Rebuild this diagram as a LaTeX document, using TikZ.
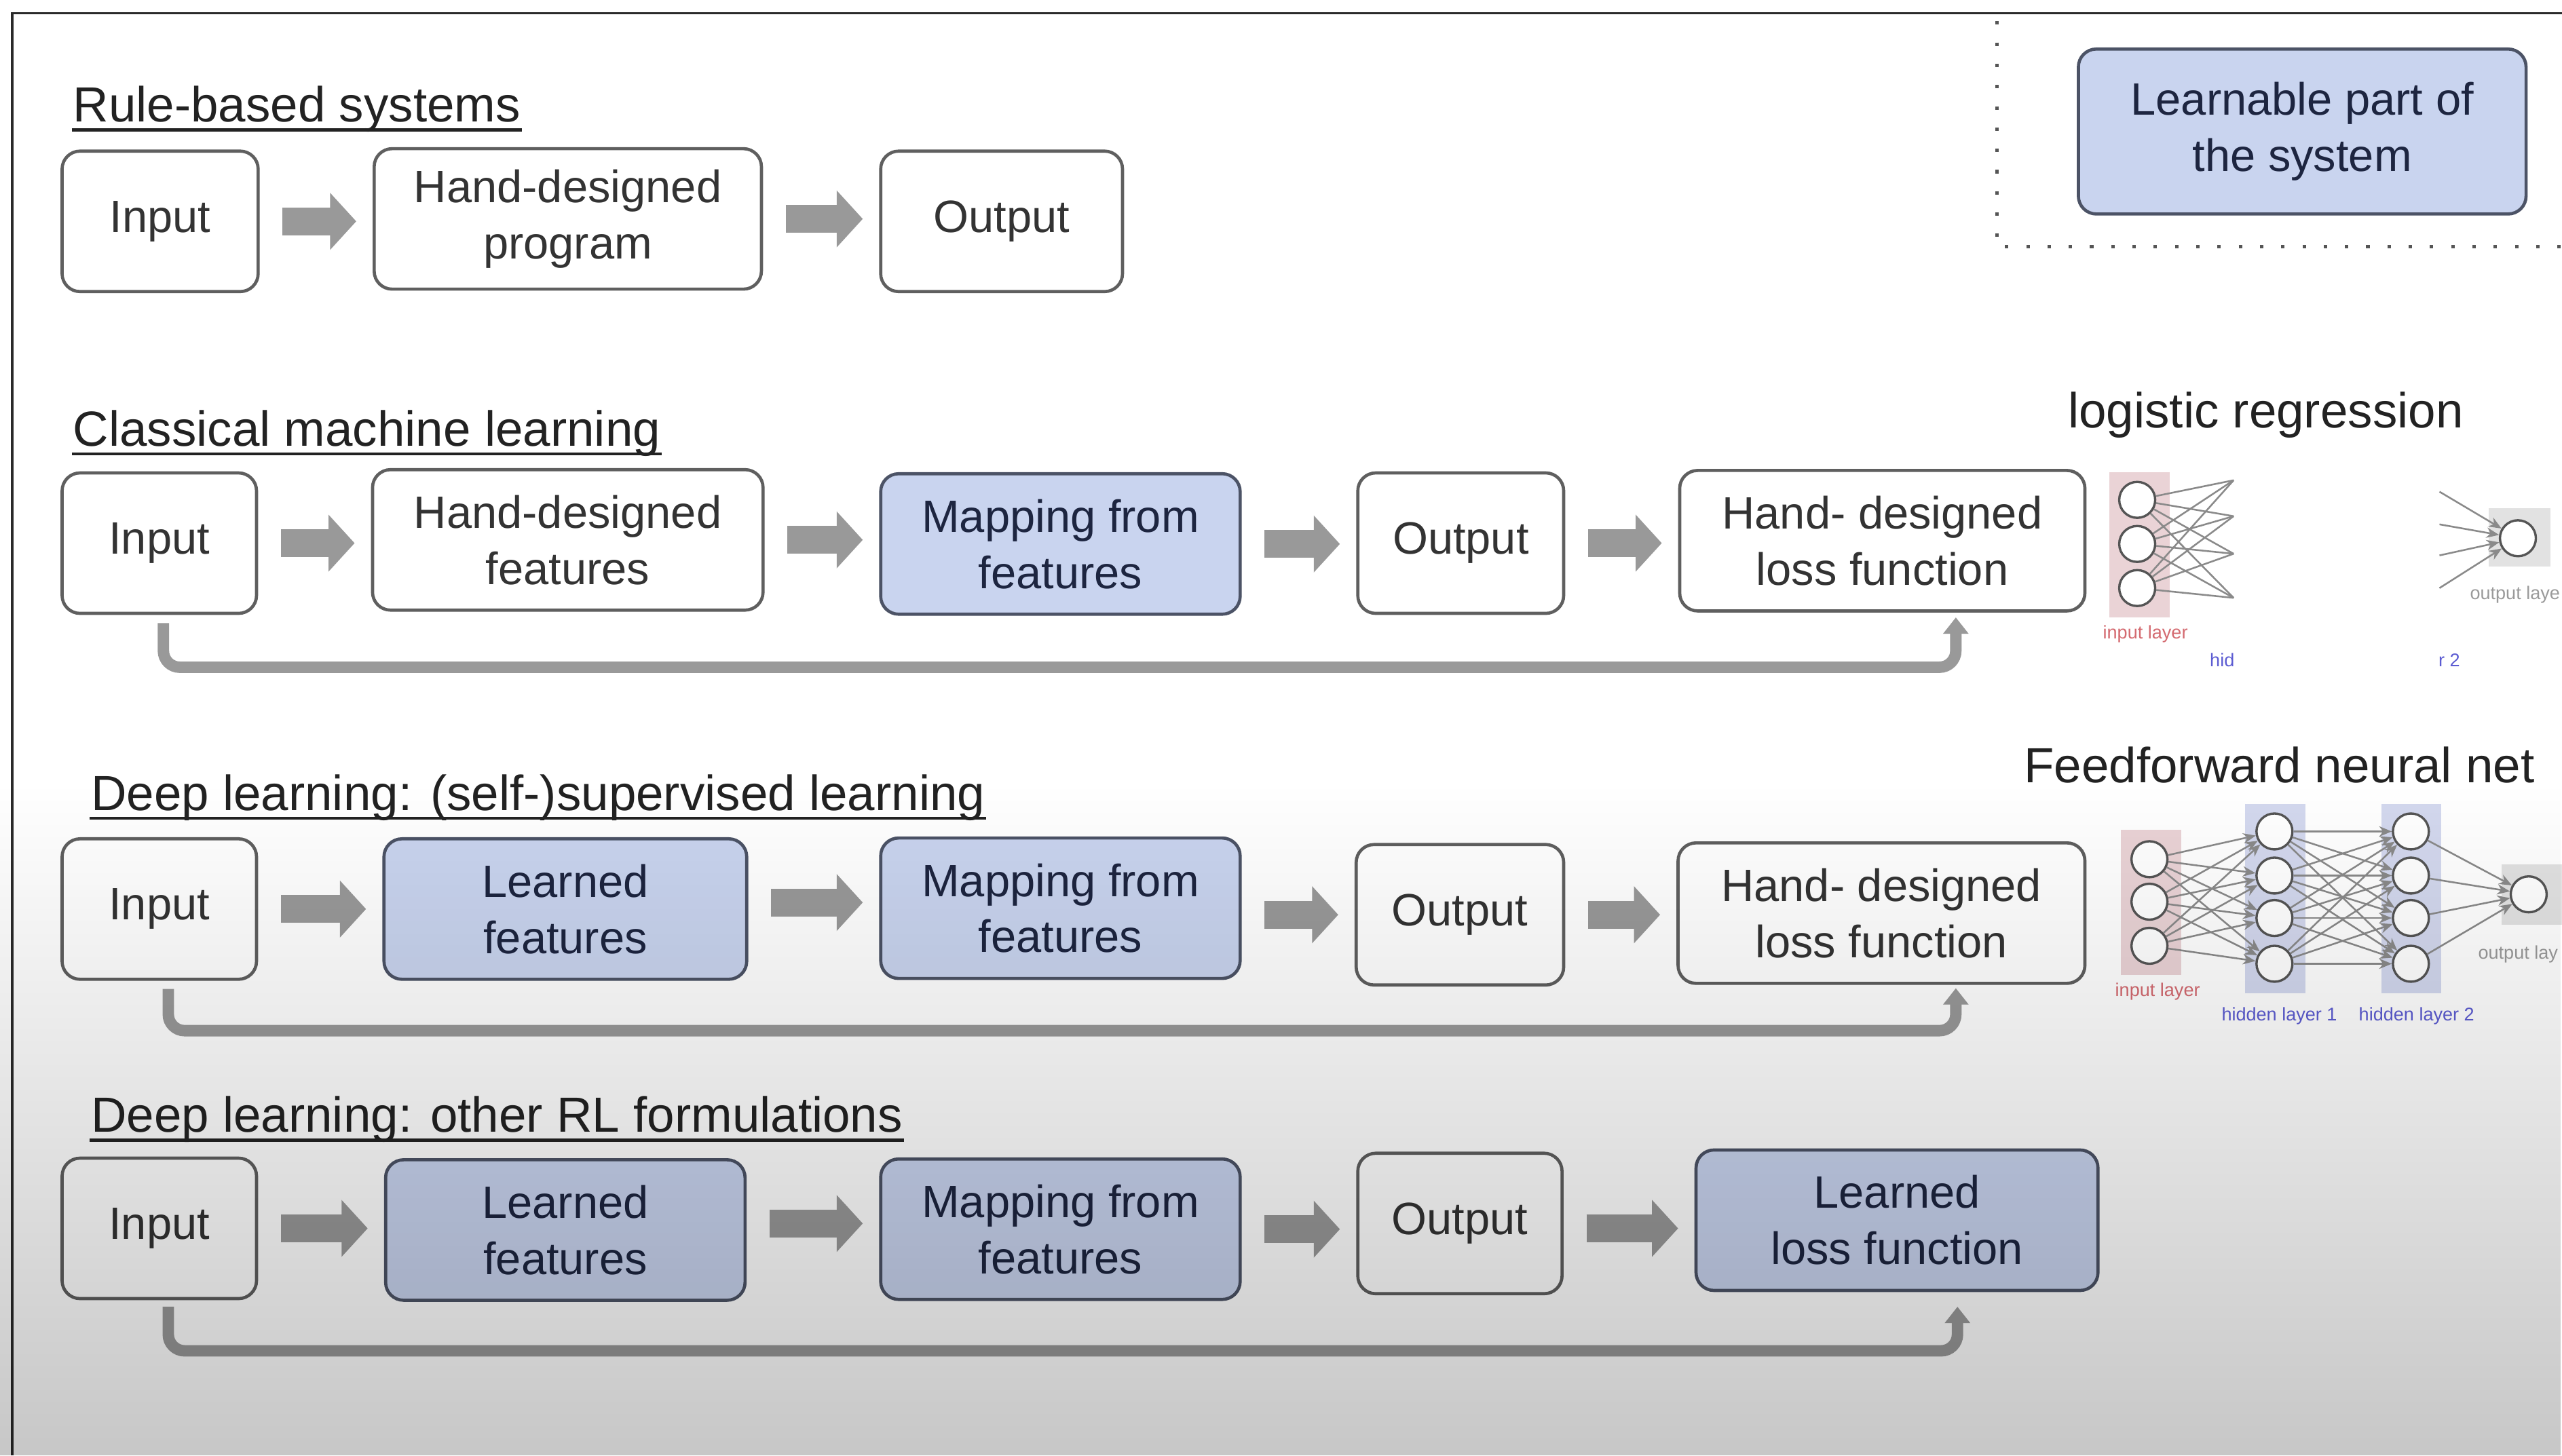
\documentclass[tikz,border=0pt]{standalone}
\usepackage{fontspec}
\setmainfont{Liberation Sans}
\usetikzlibrary{arrows.meta,fadings}

\definecolor{boxline}{HTML}{5F5F5F}
\definecolor{boxtext}{HTML}{333333}
\definecolor{learnfill}{HTML}{C9D4EF}
\definecolor{learnline}{HTML}{4C5366}
\definecolor{learntext}{HTML}{1D2540}
\definecolor{headtext}{HTML}{222222}
\definecolor{arrowgray}{HTML}{999999}
\definecolor{framecol}{HTML}{2A2A2A}
\definecolor{dotcol}{HTML}{555555}
\definecolor{inlayerfill}{HTML}{EAD3D6}
\definecolor{hidlayerfill}{HTML}{D3D8EE}
\definecolor{outlayerfill}{HTML}{E2E2E2}
\definecolor{neuronline}{HTML}{555555}
\definecolor{synapsegray}{HTML}{8A8A8A}
\definecolor{lblred}{HTML}{D46A70}
\definecolor{lblblue}{HTML}{5C5CD2}
\definecolor{lblgray}{HTML}{9A9A9A}

\tikzfading[name=dimdown, top color=transparent!100, bottom color=transparent!78]

\tikzstyle{box}=[draw=boxline, line width=0.55pt, rounded corners=0.11cm, text=boxtext, align=center, inner sep=0pt, minimum height=0.86cm, font=\fontsize{7.9}{9.8}\selectfont]
\tikzstyle{learn}=[box, draw=learnline, fill=learnfill, text=learntext]
\tikzstyle{heading}=[anchor=base west, inner sep=0pt, text=headtext, font=\fontsize{8.6}{10}\selectfont]
\tikzstyle{uline}=[draw=headtext, line width=0.5pt]
\tikzstyle{blockarrow}=[draw=arrowgray, line width=0.17cm, -{Triangle[width=0.34cm,length=0.16cm]}, shorten <=0.14cm, shorten >=0.1cm]
\tikzstyle{feedback}=[draw=arrowgray, line width=0.07cm, rounded corners=0.1cm, -{Triangle[width=0.15cm,length=0.1cm]}]
\tikzstyle{legenddots}=[draw=dotcol, line width=0.6pt, dash pattern=on 0.6pt off 3.1pt]
\tikzstyle{neuron}=[circle, inner sep=0pt, minimum size=0.22cm, draw=neuronline, line width=0.4pt, fill=white]
\tikzstyle{synapse}=[draw=synapsegray, line width=0.3pt]
\tikzstyle{synapsetip}=[synapse, -{Stealth[length=2.2pt,width=1.8pt]}]
\tikzstyle{lbl}=[inner sep=0pt, font=\fontsize{3.2}{3.6}\selectfont]

\begin{document}
\begin{tikzpicture}
\clip (0,0) rectangle (15.68,-8.91);
\fill[white] (0,0) rectangle (15.68,-8.91);
\draw[framecol, line width=0.4pt] (0.075,-8.91) -- (0.075,-0.08) -- (15.68,-0.08);

% legend
\draw[legenddots] (12.22,-0.13) -- (12.22,-1.51) -- (15.68,-1.51);
\node[learn, minimum width=2.74cm, minimum height=1.01cm] (legend) at (14.09,-0.805) {Learnable part of\\the system};

% rule-based systems
\node[heading] (h1) at (0.44,-0.745) {Rule-based systems};
\draw[uline] ([yshift=-0.05cm]h1.base west) -- ([yshift=-0.05cm]h1.base east);
\node[box, minimum width=1.20cm] (in1) at (0.98,-1.355) {Input};
\node[box, minimum width=2.37cm] (prog) at (3.475,-1.34) {Hand-designed\\program};
\node[box, minimum width=1.48cm] (out1) at (6.13,-1.355) {Output};
\draw[blockarrow] (in1.east) -- (in1.east -| prog.west);
\draw[blockarrow] (prog.east) -- (prog.east -| out1.west);

% classical machine learning
\node[heading] (h2) at (0.44,-2.73) {Classical machine learning};
\draw[uline] ([yshift=-0.05cm]h2.base west) -- ([yshift=-0.05cm]h2.base east);
\node[box, minimum width=1.19cm] (in2) at (0.975,-3.325) {Input};
\node[box, minimum width=2.39cm] (hfeat) at (3.475,-3.305) {Hand-designed\\features};
\node[learn, minimum width=2.20cm] (map2) at (6.49,-3.33) {Mapping from\\features};
\node[box, minimum width=1.26cm] (out2) at (8.94,-3.325) {Output};
\node[box, minimum width=2.48cm] (loss2) at (11.52,-3.31) {Hand- designed\\loss function};
\draw[blockarrow] (in2.east) -- (in2.east -| hfeat.west);
\draw[blockarrow] (hfeat.east) -- (hfeat.east -| map2.west);
\draw[blockarrow] (map2.east) -- (map2.east -| out2.west);
\draw[blockarrow] (out2.east) -- (out2.east -| loss2.west);
\draw[feedback] ([xshift=0.025cm,yshift=-0.05cm]in2.south) -- ++(0,-0.27) -| ([xshift=0.45cm,yshift=-0.03cm]loss2.south);

\node[heading] (lrtitle) at (12.65,-2.62) {logistic regression};
\fill[inlayerfill] (12.91,-2.89) rectangle (13.28,-3.78);
\fill[outlayerfill] (15.23,-3.11) rectangle (15.61,-3.47);
\node[neuron] (lri1) at (13.08,-3.06) {};
\node[neuron] (lri2) at (13.08,-3.33) {};
\node[neuron] (lri3) at (13.08,-3.60) {};
\node[neuron] (lro) at (15.41,-3.295) {};
\coordinate (lrh1) at (13.67,-2.94);
\coordinate (lrh2) at (13.67,-3.16);
\coordinate (lrh3) at (13.67,-3.39);
\coordinate (lrh4) at (13.67,-3.66);
\coordinate (lrp1) at (14.93,-3.01);
\coordinate (lrp2) at (14.93,-3.21);
\coordinate (lrp3) at (14.93,-3.40);
\coordinate (lrp4) at (14.93,-3.60);
\foreach \i in {1,2,3}
  \foreach \j in {1,...,4}
    \draw[synapse] (lri\i) -- (lrh\j);
\foreach \j in {1,...,4}
  \draw[synapsetip] (lrp\j) -- (lro);
\node[lbl, text=lblred] (lrlin) at (13.13,-3.88) {input layer};
\node[lbl, text=lblblue] (lrlhid) at (13.60,-4.04) {hid};
\node[lbl, text=lblblue] (lrlr) at (14.99,-4.04) {r 2};
\node[lbl, text=lblgray, anchor=west] (lrlout) at (15.11,-3.64) {output laye};

% deep learning: supervised
\node[heading] (h3) at (0.55,-4.96) {Deep learning: (self-)supervised learning};
\draw[uline] ([yshift=-0.05cm]h3.base west) -- ([yshift=-0.05cm]h3.base east);
\node[box, minimum width=1.19cm] (in3) at (0.975,-5.565) {Input};
\node[learn, minimum width=2.22cm] (lfeat3) at (3.46,-5.565) {Learned\\features};
\node[learn, minimum width=2.20cm] (map3) at (6.49,-5.56) {Mapping from\\features};
\node[box, minimum width=1.27cm] (out3) at (8.935,-5.60) {Output};
\node[box, minimum width=2.49cm] (loss3) at (11.515,-5.59) {Hand- designed\\loss function};
\draw[blockarrow] (in3.east) -- (in3.east -| lfeat3.west);
\draw[blockarrow] ([yshift=0.04cm]lfeat3.east) -- ([yshift=0.04cm]lfeat3.east -| map3.west);
\draw[blockarrow] (out3.west -| map3.east) -- (out3.west);
\draw[blockarrow] (out3.east) -- (out3.east -| loss3.west);
\draw[feedback] ([xshift=0.055cm,yshift=-0.05cm]in3.south) -- ++(0,-0.255) -| ([xshift=0.455cm,yshift=-0.02cm]loss3.south);

\node[heading] (fftitle) at (12.38,-4.79) {Feedforward neural net};
\fill[inlayerfill] (12.98,-5.08) rectangle (13.35,-5.97);
\fill[hidlayerfill] (13.74,-4.92) rectangle (14.11,-6.08);
\fill[hidlayerfill] (14.575,-4.92) rectangle (14.94,-6.08);
\fill[outlayerfill] (15.31,-5.29) rectangle (15.70,-5.66);
\node[neuron] (ffi1) at (13.155,-5.26) {};
\node[neuron] (ffi2) at (13.155,-5.52) {};
\node[neuron] (ffi3) at (13.155,-5.79) {};
\node[neuron] (ffa1) at (13.92,-5.09) {};
\node[neuron] (ffa2) at (13.92,-5.36) {};
\node[neuron] (ffa3) at (13.92,-5.62) {};
\node[neuron] (ffa4) at (13.92,-5.90) {};
\node[neuron] (ffb1) at (14.755,-5.09) {};
\node[neuron] (ffb2) at (14.755,-5.36) {};
\node[neuron] (ffb3) at (14.755,-5.62) {};
\node[neuron] (ffb4) at (14.755,-5.90) {};
\node[neuron] (ffo) at (15.476,-5.475) {};
\foreach \i in {1,2,3}
  \foreach \j in {1,...,4}
    \draw[synapsetip] (ffi\i) -- (ffa\j);
\foreach \i in {1,...,4}
  \foreach \j in {1,...,4}
    \draw[synapsetip] (ffa\i) -- (ffb\j);
\foreach \i in {1,...,4}
  \draw[synapsetip] (ffb\i) -- (ffo);
\node[lbl, text=lblred] (fflin) at (13.205,-6.07) {input layer};
\node[lbl, text=lblblue] (fflh1) at (13.95,-6.22) {hidden layer 1};
\node[lbl, text=lblblue] (fflh2) at (14.79,-6.22) {hidden layer 2};
\node[lbl, text=lblgray, anchor=west] (fflout) at (15.16,-5.84) {output lay};

% deep learning: other RL
\node[heading] (h4) at (0.55,-6.93) {Deep learning: other RL formulations};
\draw[uline] ([yshift=-0.05cm]h4.base west) -- ([yshift=-0.05cm]h4.base east);
\node[box, minimum width=1.19cm] (in4) at (0.975,-7.52) {Input};
\node[learn, minimum width=2.20cm] (lfeat4) at (3.46,-7.53) {Learned\\features};
\node[learn, minimum width=2.20cm] (map4) at (6.49,-7.525) {Mapping from\\features};
\node[box, minimum width=1.25cm] (out4) at (8.935,-7.49) {Output};
\node[learn, minimum width=2.46cm] (lloss4) at (11.61,-7.47) {Learned\\loss function};
\draw[blockarrow] (in4.east) -- (in4.east -| lfeat4.west);
\draw[blockarrow] ([yshift=0.04cm]lfeat4.east) -- ([yshift=0.04cm]lfeat4.east -| map4.west);
\draw[blockarrow] (map4.east) -- (map4.east -| out4.west);
\draw[blockarrow] ([yshift=-0.03cm]out4.east) -- ([yshift=-0.03cm]out4.east -| lloss4.west);
\draw[feedback] ([xshift=0.055cm,yshift=-0.04cm]in4.south) -- ++(0,-0.27) -| ([xshift=0.37cm,yshift=-0.09cm]lloss4.south);

% darker lower part of the slide
\fill[black, path fading=dimdown] (0,-4.8) rectangle (15.68,-8.91);
\end{tikzpicture}
\end{document}
